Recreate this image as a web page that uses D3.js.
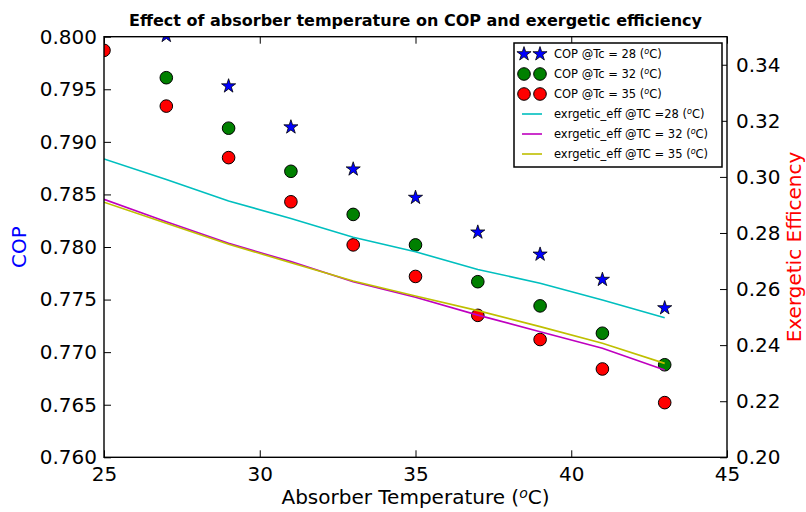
<!DOCTYPE html>
<html>
<head>
<meta charset="utf-8">
<script src="https://cdn.jsdelivr.net/npm/d3@7"></script>
<style>
  body { margin: 0; background: #fff; }
  svg { display: block; font-family: "DejaVu Sans", sans-serif; }
</style>
</head>
<body>
<div id="chart"></div>
<script>
// absorber temperatures (x)
const temps = [25, 27, 29, 31, 33, 35, 37, 39, 41, 43];

// COP values (left axis)
const cop28 = [0.8055, 0.8001, 0.7953, 0.7914, 0.7874, 0.7847, 0.7814, 0.7793, 0.7769, 0.7742];
const cop32 = [0.8012, 0.7961, 0.7913, 0.7872, 0.7831, 0.7802, 0.7767, 0.7744, 0.7718, 0.7688];
const cop35 = [0.7987, 0.7934, 0.7885, 0.7843, 0.7802, 0.7772, 0.7735, 0.7712, 0.7684, 0.7652];

// exergetic efficiency values (right axis)
const eff28 = [0.3064, 0.2991, 0.2914, 0.2852, 0.2785, 0.2733, 0.2670, 0.2621, 0.2561, 0.2498];
const eff32 = [0.2920, 0.2840, 0.2763, 0.2698, 0.2626, 0.2571, 0.2507, 0.2448, 0.2389, 0.2311];
const eff35 = [0.2910, 0.2835, 0.2760, 0.2694, 0.2629, 0.2575, 0.2523, 0.2466, 0.2407, 0.2335];

// tick labels
const tempTicks = [25, 30, 35, 40, 45];
const copTicks = [0.760, 0.765, 0.770, 0.775, 0.780, 0.785, 0.790, 0.795, 0.800];
const effTicks = [0.20, 0.22, 0.24, 0.26, 0.28, 0.30, 0.32, 0.34];

// legend text (each followed by a superscript "o" and "C)")
const legendLabels = [
    "COP @Tc = 28 (",
    "COP @Tc = 32 (",
    "COP @Tc = 35 (",
    "exrgetic_eff @TC =28 (",
    "exrgetic_eff @TC = 32 (",
    "exrgetic_eff @TC = 35 ("
];

// SVG dimensions
const width = 806;
const height = 512;
const margin = { top: 36.7, right: 79, bottom: 54.7, left: 104 };
const plotW = width - margin.left - margin.right;
const plotH = height - margin.top - margin.bottom;
const tickLen = 7;

const svg = d3.select("#chart")
    .append("svg")
    .attr("width", width)
    .attr("height", height);

// scales
const x = d3.scaleLinear().domain([25, 45]).range([0, plotW]);
const yCop = d3.scaleLinear().domain([0.760, 0.800]).range([plotH, 0]);
const yEff = d3.scaleLinear().domain([0.20, 0.35]).range([plotH, 0]);

const g = svg.append("g")
    .attr("transform", `translate(${margin.left},${margin.top})`);

g.append("clipPath")
    .attr("id", "plotClip")
    .append("rect")
    .attr("width", plotW)
    .attr("height", plotH);

// COP markers (first axes)
const markerSeries = [
    { values: cop28, color: "#0000ff", shape: "star" },
    { values: cop32, color: "#008000", shape: "circle" },
    { values: cop35, color: "#ff0000", shape: "circle" }
];

const starPath = d3.symbol().type(d3.symbolStar).size(62);

function drawMarker(sel, s) {
    if (s.shape === "star") {
        sel.append("path")
            .attr("d", starPath)
            .attr("fill", s.color)
            .attr("stroke", "#000")
            .attr("stroke-width", 0.8);
    } else {
        sel.append("circle")
            .attr("r", 6.3)
            .attr("fill", s.color)
            .attr("stroke", "#000")
            .attr("stroke-width", 1);
    }
}

const markers = g.append("g").attr("clip-path", "url(#plotClip)");
markerSeries.forEach(s => {
    markers.append("g")
        .selectAll("g")
        .data(temps.map((t, i) => ({ t: t, v: s.values[i] })))
        .enter().append("g")
        .attr("transform", d => `translate(${x(d.t)},${yCop(d.v)})`)
        .each(function() { drawMarker(d3.select(this), s); });
});

// efficiency lines (twin axes, drawn on top)
const lineSeries = [
    { values: eff28, color: "#00bfbf" },
    { values: eff32, color: "#bf00bf" },
    { values: eff35, color: "#bfbf00" }
];

const line = d3.line()
    .x((d, i) => x(temps[i]))
    .y(d => yEff(d));

const lines = g.append("g").attr("clip-path", "url(#plotClip)");
lineSeries.forEach(s => {
    lines.append("path")
        .attr("d", line(s.values))
        .attr("fill", "none")
        .attr("stroke", s.color)
        .attr("stroke-width", 1.6);
});

// axes with inward ticks
function styleAxis(ax) {
    ax.select(".domain").remove();
    ax.selectAll(".tick line").attr("stroke", "#000").attr("stroke-width", 1);
    ax.selectAll(".tick text")
        .attr("fill", "#000")
        .style("font-family", "DejaVu Sans")
        .style("font-size", "20px");
}

g.append("g")
    .attr("transform", `translate(0,${plotH})`)
    .call(d3.axisBottom(x).tickValues(tempTicks).tickFormat(d3.format("d"))
        .tickSizeInner(-tickLen).tickSizeOuter(0).tickPadding(10))
    .call(styleAxis);

g.append("g")
    .call(d3.axisTop(x).tickValues(tempTicks).tickFormat("")
        .tickSizeInner(-tickLen).tickSizeOuter(0))
    .call(styleAxis);

g.append("g")
    .call(d3.axisLeft(yCop).tickValues(copTicks).tickFormat(d3.format(".3f"))
        .tickSizeInner(-tickLen).tickSizeOuter(0).tickPadding(7))
    .call(styleAxis);

g.append("g")
    .attr("transform", `translate(${plotW},0)`)
    .call(d3.axisRight(yEff).tickValues(effTicks).tickFormat(d3.format(".2f"))
        .tickSizeInner(-tickLen).tickSizeOuter(0).tickPadding(9))
    .call(styleAxis);

// frame
g.append("rect")
    .attr("width", plotW)
    .attr("height", plotH)
    .attr("fill", "none")
    .attr("stroke", "#000")
    .attr("stroke-width", 1.4);

// text with a superscript "o" before "C)"
function degreeText(sel, before, size) {
    sel.append("tspan").text(before);
    sel.append("tspan")
        .text("o")
        .style("font-style", "italic")
        .style("font-size", (size * 0.7) + "px")
        .attr("dy", -size * 0.32);
    sel.append("tspan")
        .text("C)")
        .attr("dy", size * 0.32);
}

// title
svg.append("text")
    .attr("x", margin.left + plotW / 2)
    .attr("y", 26)
    .attr("text-anchor", "middle")
    .style("font-size", "16px")
    .style("font-weight", "bold")
    .text("Effect of absorber temperature on COP and exergetic efficiency");

// axis labels
svg.append("text")
    .attr("x", margin.left + plotW / 2)
    .attr("y", 504)
    .attr("text-anchor", "middle")
    .style("font-size", "20px")
    .call(degreeText, "Absorber Temperature (", 20);

svg.append("text")
    .attr("transform", `translate(26,${margin.top + plotH / 2}) rotate(-90)`)
    .attr("text-anchor", "middle")
    .attr("fill", "#0000ff")
    .style("font-size", "20px")
    .text("COP");

svg.append("text")
    .attr("transform", `translate(801,${margin.top + plotH / 2}) rotate(-90)`)
    .attr("text-anchor", "middle")
    .attr("fill", "#ff0000")
    .style("font-size", "20px")
    .text("Exergetic Efficency");

// legend
const legendX = 514;
const legendY = 43;
const rowH = 20;
const legend = svg.append("g");

legend.append("rect")
    .attr("x", legendX)
    .attr("y", legendY)
    .attr("width", 208)
    .attr("height", 124)
    .attr("fill", "#fff")
    .attr("stroke", "#000")
    .attr("stroke-width", 1.5);

const legendItems = [...markerSeries, ...lineSeries];
legendItems.forEach((s, i) => {
    const cy = legendY + 11 + i * rowH;
    if (s.shape) {
        [legendX + 10, legendX + 26].forEach(cx => {
            legend.append("g")
                .attr("transform", `translate(${cx},${cy})`)
                .call(sel => drawMarker(sel, s));
        });
    } else {
        legend.append("line")
            .attr("x1", legendX + 8)
            .attr("x2", legendX + 28)
            .attr("y1", cy)
            .attr("y2", cy)
            .attr("stroke", s.color)
            .attr("stroke-width", 1.6);
    }
    legend.append("text")
        .attr("x", legendX + 40)
        .attr("y", cy + 4)
        .style("font-size", "11.5px")
        .call(degreeText, legendLabels[i], 11.5);
});
</script>
</body>
</html>
